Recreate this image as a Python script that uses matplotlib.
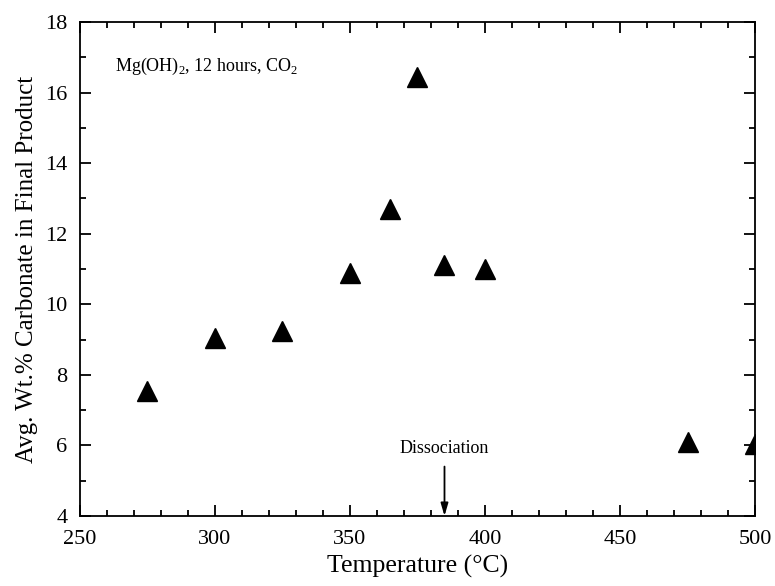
import matplotlib
matplotlib.use("Agg")
import matplotlib.pyplot as plt
from matplotlib.ticker import MultipleLocator

plt.rcParams['font.family'] = ['Liberation Serif', 'DejaVu Serif']
plt.rcParams['mathtext.fontset'] = 'custom'
plt.rcParams['mathtext.rm'] = 'Liberation Serif'

temperature = [275, 300, 325, 350, 365, 375, 385, 400, 475, 500]
carbonate_wt = [7.55, 9.05, 9.25, 10.9, 12.7, 16.45, 11.1, 11.0, 6.1, 6.05]

fig = plt.figure(figsize=(7.75, 5.86), dpi=100)
ax = fig.add_axes([0.1032, 0.1195, 0.8710, 0.8430])

ax.plot(temperature, carbonate_wt, linestyle='none', marker='^',
        markersize=14, color='black', clip_on=True)

ax.set_xlim(250, 500)
ax.set_ylim(4, 18)
ax.xaxis.set_major_locator(MultipleLocator(50))
ax.xaxis.set_minor_locator(MultipleLocator(10))
ax.yaxis.set_major_locator(MultipleLocator(2))
ax.yaxis.set_minor_locator(MultipleLocator(1))
ax.tick_params(which='both', direction='in', top=True, right=True,
               width=1.3, labelsize=16, colors='black')
ax.tick_params(which='major', length=8)
ax.tick_params(which='minor', length=4.5)
ax.tick_params(axis='x', pad=10)
ax.tick_params(axis='y', pad=9)
for s in ax.spines.values():
    s.set_linewidth(1.3)

ax.set_xlabel('Temperature (\u00b0C)', fontsize=18.5, labelpad=4)
ax.set_ylabel('Avg. Wt.% Carbonate in Final Product', fontsize=18, labelpad=5)

ax.text(263, 16.75, 'Mg(OH)$_2$, 12 hours, CO$_2$', fontsize=13,
        ha='left', va='center')

ax.annotate('', xy=(385, 4.0), xytext=(385, 5.4),
            arrowprops=dict(arrowstyle='-|>,head_length=0.75,head_width=0.22',
                            color='black', lw=1.3,
                            mutation_scale=10, shrinkA=0, shrinkB=0))
ax.text(385, 5.9, 'Dissociation', fontsize=13, ha='center', va='center')

fig.savefig('out.png', dpi=100, facecolor='white')
